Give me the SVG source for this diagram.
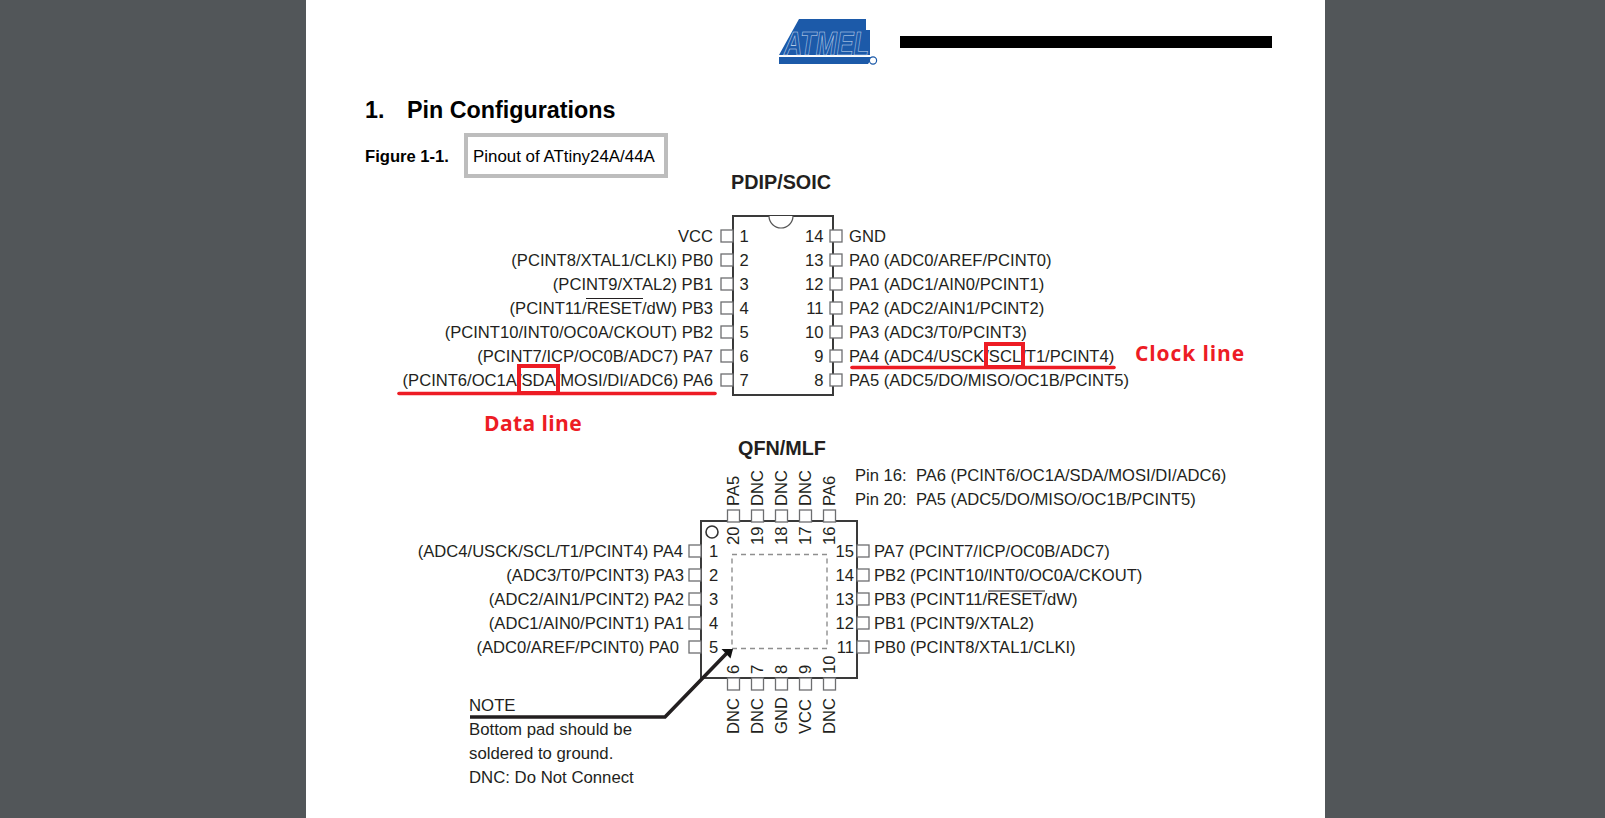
<svg xmlns="http://www.w3.org/2000/svg" width="1605" height="818" viewBox="0 0 1605 818">
<style>
text{font-family:"Liberation Sans",Arial,sans-serif;font-size:16.6px;fill:#231f20}
.e{text-anchor:end}
.m{text-anchor:middle}
.b{font-weight:bold}
.n{font-size:16.75px}
.p{fill:#fff;stroke:#6d6e70;stroke-width:1.3}
.c{fill:#fff;stroke:#3a3a3a;stroke-width:2}
.r{fill:none;stroke:#ed1c24;stroke-width:4}
.u{stroke:#ed1c24;stroke-width:3.6;stroke-linecap:round}
.red{fill:#ed1c24;font-weight:bold;font-size:21px;letter-spacing:.9px;font-family:"Open Sans","Liberation Sans",sans-serif}
</style>
<rect width="1605" height="818" fill="#525659"/>
<rect x="306" y="0" width="1019" height="818" fill="#fff"/>
<g id="logo">
<polygon points="799,19 866,19 866,30 870,30 870,55 779,55" fill="#1c5aa9"/>
<polygon points="779,57 873,57 868,64 779,64" fill="#1c5aa9"/>
<text x="784" y="55" textLength="85" lengthAdjust="spacingAndGlyphs" style="font-size:34px;font-weight:bold;font-style:italic;fill:#1c5aa9;stroke:#cfdff1;stroke-width:.6">ATMEL</text>
<circle cx="873" cy="60.500" r="3.600" fill="#fff" stroke="#1c5aa9" stroke-width="1.200"/>
</g>
<rect id="redaction" x="900" y="36" width="372" height="12" fill="#000"/>
<text x="365" y="118" class="b" style="font-size:23.3px;fill:#000">1.</text>
<text x="407" y="118" class="b" style="font-size:23.3px;fill:#000">Pin Configurations</text>
<text x="365" y="162" class="b" style="fill:#000">Figure 1-1.</text>
<rect id="caption-box" x="466" y="135" width="200" height="41" fill="#fff" stroke="#bdbdbd" stroke-width="4"/>
<text x="473" y="162" style="font-size:16.9px;fill:#000">Pinout of ATtiny24A/44A</text>
<text x="781" y="189" class="m b" style="font-size:19.8px">PDIP/SOIC</text>
<g id="pdip-chip">
<rect class="c" x="733" y="216" width="100" height="179"/>
<path d="M769 216a12 12 0 0 0 24 0" fill="#fff" stroke="#555" stroke-width="1.2"/>
</g>
<g id="pdip-left">
<rect class="p" x="721" y="230" width="12" height="12"/><text class="e" x="713" y="241.500">VCC</text><text x="739.500" y="241.500">1</text>
<rect class="p" x="721" y="254" width="12" height="12"/><text class="e" x="713" y="265.500">(PCINT8/XTAL1/CLKI) PB0</text><text x="739.500" y="265.500">2</text>
<rect class="p" x="721" y="278" width="12" height="12"/><text class="e" x="713" y="289.500">(PCINT9/XTAL2) PB1</text><text x="739.500" y="289.500">3</text>
<rect class="p" x="721" y="302" width="12" height="12"/><text class="e" x="713" y="313.500">(PCINT11/RESET/dW) PB3</text><text x="739.500" y="313.500">4</text>
<rect class="p" x="721" y="326" width="12" height="12"/><text class="e" x="713" y="337.500">(PCINT10/INT0/OC0A/CKOUT) PB2</text><text x="739.500" y="337.500">5</text>
<rect class="p" x="721" y="350" width="12" height="12"/><text class="e" x="713" y="361.500">(PCINT7/ICP/OC0B/ADC7) PA7</text><text x="739.500" y="361.500">6</text>
<rect class="p" x="721" y="374" width="12" height="12"/><text class="e" x="713" y="385.500">(PCINT6/OC1A/SDA/MOSI/DI/ADC6) PA6</text><text x="739.500" y="385.500">7</text>
<line x1="586" y1="298.500" x2="643" y2="298.500" stroke="#231f20" stroke-width="1"/>
</g>
<g id="pdip-right">
<rect class="p" x="830" y="230" width="12" height="12"/><text x="849" y="241.500">GND</text><text class="e" x="823.500" y="241.500">14</text>
<rect class="p" x="830" y="254" width="12" height="12"/><text x="849" y="265.500">PA0 (ADC0/AREF/PCINT0)</text><text class="e" x="823.500" y="265.500">13</text>
<rect class="p" x="830" y="278" width="12" height="12"/><text x="849" y="289.500">PA1 (ADC1/AIN0/PCINT1)</text><text class="e" x="823.500" y="289.500">12</text>
<rect class="p" x="830" y="302" width="12" height="12"/><text x="849" y="313.500">PA2 (ADC2/AIN1/PCINT2)</text><text class="e" x="823.500" y="313.500">11</text>
<rect class="p" x="830" y="326" width="12" height="12"/><text x="849" y="337.500">PA3 (ADC3/T0/PCINT3)</text><text class="e" x="823.500" y="337.500">10</text>
<rect class="p" x="830" y="350" width="12" height="12"/><text x="849" y="361.500">PA4 (ADC4/USCK/SCL/T1/PCINT4)</text><text class="e" x="823.500" y="361.500">9</text>
<rect class="p" x="830" y="374" width="12" height="12"/><text x="849" y="385.500">PA5 (ADC5/DO/MISO/OC1B/PCINT5)</text><text class="e" x="823.500" y="385.500">8</text>
</g>
<g id="annotations">
<line class="u" x1="399" y1="393.500" x2="715" y2="393.500"/>
<rect class="r" x="519" y="366" width="39" height="27"/>
<line class="u" x1="852" y1="367.500" x2="1114" y2="367.500"/>
<rect class="r" x="986" y="344" width="37" height="23"/>
<text class="red" x="1135" y="361">Clock line</text>
<text class="red" x="484" y="431" style="letter-spacing:.4px">Data line</text>
</g>
<text x="782" y="455" class="m b" style="font-size:19.8px">QFN/MLF</text>
<text x="855" y="481" xml:space="preserve">Pin 16:  PA6 (PCINT6/OC1A/SDA/MOSI/DI/ADC6)</text>
<text x="855" y="505" xml:space="preserve">Pin 20:  PA5 (ADC5/DO/MISO/OC1B/PCINT5)</text>
<g id="qfn-chip">
<rect class="c" x="701" y="521" width="156" height="157"/>
<circle cx="712" cy="532" r="6" fill="#fff" stroke="#333" stroke-width="1.6"/>
<rect x="732" y="554.500" width="95" height="94" fill="none" stroke="#8f8f8f" stroke-width="1.4" stroke-dasharray="5 4"/>
</g>
<g id="qfn-top">
<rect class="p" x="727.500" y="510" width="12" height="12"/><text transform="translate(739,506) rotate(-90)">PA5</text><text transform="translate(739,545) rotate(-90)">20</text>
<rect class="p" x="751.500" y="510" width="12" height="12"/><text transform="translate(763,506) rotate(-90)">DNC</text><text transform="translate(763,545) rotate(-90)">19</text>
<rect class="p" x="775.500" y="510" width="12" height="12"/><text transform="translate(787,506) rotate(-90)">DNC</text><text transform="translate(787,545) rotate(-90)">18</text>
<rect class="p" x="799.500" y="510" width="12" height="12"/><text transform="translate(811,506) rotate(-90)">DNC</text><text transform="translate(811,545) rotate(-90)">17</text>
<rect class="p" x="823.500" y="510" width="12" height="12"/><text transform="translate(835,506) rotate(-90)">PA6</text><text transform="translate(835,545) rotate(-90)">16</text>
</g>
<g id="qfn-left">
<rect class="p" x="689" y="545" width="12" height="12"/><text class="e" x="683" y="556.500">(ADC4/USCK/SCL/T1/PCINT4) PA4</text><text x="709" y="556.500">1</text>
<rect class="p" x="689" y="569" width="12" height="12"/><text class="e" x="684" y="580.500">(ADC3/T0/PCINT3) PA3</text><text x="709" y="580.500">2</text>
<rect class="p" x="689" y="593" width="12" height="12"/><text class="e" x="684" y="604.500">(ADC2/AIN1/PCINT2) PA2</text><text x="709" y="604.500">3</text>
<rect class="p" x="689" y="617" width="12" height="12"/><text class="e" x="684" y="628.500">(ADC1/AIN0/PCINT1) PA1</text><text x="709" y="628.500">4</text>
<rect class="p" x="689" y="641" width="12" height="12"/><text class="e" x="679" y="652.500">(ADC0/AREF/PCINT0) PA0</text><text x="709" y="652.500">5</text>
</g>
<g id="qfn-right">
<rect class="p" x="857" y="545" width="12" height="12"/><text x="874" y="556.500">PA7 (PCINT7/ICP/OC0B/ADC7)</text><text class="e" x="854" y="556.500">15</text>
<rect class="p" x="857" y="569" width="12" height="12"/><text x="874" y="580.500">PB2 (PCINT10/INT0/OC0A/CKOUT)</text><text class="e" x="854" y="580.500">14</text>
<rect class="p" x="857" y="593" width="12" height="12"/><text x="874" y="604.500">PB3 (PCINT11/RESET/dW)</text><text class="e" x="854" y="604.500">13</text>
<rect class="p" x="857" y="617" width="12" height="12"/><text x="874" y="628.500">PB1 (PCINT9/XTAL2)</text><text class="e" x="854" y="628.500">12</text>
<rect class="p" x="857" y="641" width="12" height="12"/><text x="874" y="652.500">PB0 (PCINT8/XTAL1/CLKI)</text><text class="e" x="854" y="652.500">11</text>
<line x1="988" y1="591" x2="1045" y2="591" stroke="#231f20" stroke-width="1"/>
</g>
<g id="qfn-bottom">
<rect class="p" x="727.500" y="678" width="12" height="12"/><text transform="translate(738.500,734) rotate(-90)">DNC</text><text transform="translate(739,674) rotate(-90)">6</text>
<rect class="p" x="751.500" y="678" width="12" height="12"/><text transform="translate(762.500,734) rotate(-90)">DNC</text><text transform="translate(763,674) rotate(-90)">7</text>
<rect class="p" x="775.500" y="678" width="12" height="12"/><text transform="translate(786.500,734) rotate(-90)">GND</text><text transform="translate(787,674) rotate(-90)">8</text>
<rect class="p" x="799.500" y="678" width="12" height="12"/><text transform="translate(810.500,734) rotate(-90)">VCC</text><text transform="translate(811,674) rotate(-90)">9</text>
<rect class="p" x="823.500" y="678" width="12" height="12"/><text transform="translate(834.500,734) rotate(-90)">DNC</text><text transform="translate(835,674) rotate(-90)">10</text>
</g>
<g id="connectors">
<path d="M470 717H665L727 653" fill="none" stroke="#231f20" stroke-width="3.600"/>
<polygon points="733,649 721.500,649 730.500,658.500" fill="#111"/>
</g>
<g id="note">
<text class="n" x="469" y="711">NOTE</text>
<text class="n" x="469" y="735">Bottom pad should be</text>
<text class="n" x="469" y="759">soldered to ground.</text>
<text class="n" x="469" y="783">DNC: Do Not Connect</text>
</g>
</svg>
